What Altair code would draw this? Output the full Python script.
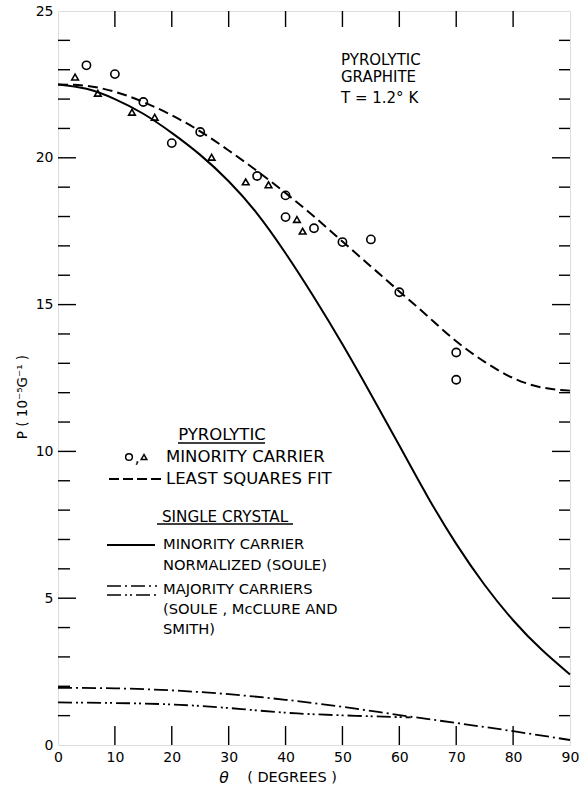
import altair as alt
import pandas as pd

# ---- measured points (pyrolytic graphite, minority carrier) ----
circ_theta = [5, 10, 15, 20, 25, 35, 40, 40, 45, 50, 55, 60, 70, 70]
circ_P = [23.15, 22.85, 21.9, 20.5, 20.88, 19.38, 18.72, 17.98, 17.6, 17.13, 17.22, 15.42, 13.37, 12.44]
tri_theta = [3, 7, 13, 17, 27, 33, 37, 42, 43]
tri_P = [22.75, 22.2, 21.55, 21.38, 20.02, 19.18, 19.08, 17.9, 17.5]

# ---- curves ----
curve_theta = [0, 5, 10, 15, 20, 25, 30, 35, 40, 45, 50, 55, 60, 65, 70, 75, 80, 85, 90]
fit_P = [22.5, 22.45, 22.25, 21.9, 21.45, 20.9, 20.25, 19.55, 18.8, 18.0, 17.15, 16.3,
         15.45, 14.6, 13.75, 13.05, 12.5, 12.18, 12.07]
single_P = [22.5, 22.35, 22.0, 21.5, 20.85, 20.1, 19.2, 18.1, 16.75, 15.25, 13.65, 11.95,
            10.2, 8.45, 6.85, 5.45, 4.25, 3.25, 2.4]
maj1_theta = [0, 10, 20, 30, 40, 50, 60, 70, 80, 90]
maj1_P = [1.95, 1.93, 1.86, 1.73, 1.54, 1.3, 1.02, 0.75, 0.47, 0.17]
maj2_theta = [0, 10, 20, 30, 40, 50, 60, 62]
maj2_P = [1.45, 1.43, 1.38, 1.26, 1.1, 1.01, 0.95, 0.95]

# ---- axis ticks ----
x_labels = [0, 10, 20, 30, 40, 50, 60, 70, 80, 90]
x_ticks = [10, 20, 30, 40, 50, 60, 70, 80]
y_labels = [0, 5, 10, 15, 20, 25]
y_major = [5, 10, 15, 20]
y_minor = [v for v in range(1, 25) if v % 5 != 0]

W, H = 512, 734
FONT = "DejaVu Sans"

xs = alt.Scale(domain=[0, 90], nice=False, zero=False)
ys = alt.Scale(domain=[0, 25], nice=False, zero=False)

x_axis = alt.Axis(values=x_labels, title=None, ticks=False, domain=False, grid=False,
                  labelFontSize=14, labelFont=FONT, labelColor="black",
                  labelPadding=5, labelFlush=False)
y_axis = alt.Axis(values=y_labels, title=None, ticks=False, domain=False, grid=False,
                  labelFontSize=14, labelFont=FONT, labelColor="black",
                  labelPadding=5, labelFlush=False)
X = alt.X("theta:Q", scale=xs, axis=x_axis)
Y = alt.Y("P:Q", scale=ys, axis=y_axis)


def curve(theta, p, dash, width=2.0):
    df = pd.DataFrame({"theta": theta, "P": p})
    kw = dict(color="black", strokeWidth=width, interpolate="natural")
    if dash:
        kw["strokeDash"] = dash
    return alt.Chart(df).mark_line(**kw).encode(x=X, y=Y)


fit_line = curve(curve_theta, fit_P, [10, 5])
single_line = curve(curve_theta, single_P, None)
maj1_line = curve(maj1_theta, maj1_P, [14, 4, 2, 4], 1.8)
maj2_line = curve(maj2_theta, maj2_P, [14, 4, 2, 3, 2, 4], 1.8)

circles = alt.Chart(pd.DataFrame({"theta": circ_theta, "P": circ_P})).mark_point(
    shape="circle", filled=False, color="black", size=68, strokeWidth=1.6, opacity=1
).encode(x=X, y=Y)
triangles = alt.Chart(pd.DataFrame({"theta": tri_theta, "P": tri_P})).mark_point(
    shape="triangle-up", filled=False, color="black", size=44, strokeWidth=1.6, opacity=1
).encode(x=X, y=Y)

# ---- inward ticks on all four sides ----
xt = pd.DataFrame({"theta": x_ticks})
ticks_bottom = alt.Chart(xt).mark_rule(color="black", strokeWidth=1.4).encode(
    x=X, y=alt.value(H), y2=alt.value(H - 19))
ticks_top = alt.Chart(xt).mark_rule(color="black", strokeWidth=1.4).encode(
    x=X, y=alt.value(0), y2=alt.value(16))
ymaj = pd.DataFrame({"P": y_major})
ymin = pd.DataFrame({"P": y_minor})
ticks_left_major = alt.Chart(ymaj).mark_rule(color="black", strokeWidth=1.4).encode(
    y=Y, x=alt.value(0), x2=alt.value(18))
ticks_left_minor = alt.Chart(ymin).mark_rule(color="black", strokeWidth=1.4).encode(
    y=Y, x=alt.value(0), x2=alt.value(12))
ticks_right_major = alt.Chart(ymaj).mark_rule(color="black", strokeWidth=1.4).encode(
    y=Y, x=alt.value(W), x2=alt.value(W - 18))
ticks_right_minor = alt.Chart(ymin).mark_rule(color="black", strokeWidth=1.4).encode(
    y=Y, x=alt.value(W), x2=alt.value(W - 11))


# ---- text helpers ----
def label(text, x, y, align="left", size=14.7, angle=0, style="normal"):
    kw = dict(text=text, align=align, baseline="middle", fontSize=size, font=FONT,
              color="black", fontStyle=style)
    if angle:
        kw["angle"] = angle
    return alt.Chart(pd.DataFrame({"d": [0]})).mark_text(**kw).encode(
        x=alt.value(x), y=alt.value(y))


def seg(x1, x2, y, dash=None, width=1.8):
    kw = dict(color="black", strokeWidth=width)
    if dash:
        kw["strokeDash"] = dash
    return alt.Chart(pd.DataFrame({"d": [0]})).mark_rule(**kw).encode(
        x=alt.value(x1), x2=alt.value(x2), y=alt.value(y))


def sym(shape, x, y, size):
    return alt.Chart(pd.DataFrame({"d": [0]})).mark_point(
        shape=shape, filled=False, color="black", size=size, strokeWidth=1.5, opacity=1
    ).encode(x=alt.value(x), y=alt.value(y))


PY = 16.5
notes = [
    label("PYROLYTIC", 283, 49, size=15),
    label("GRAPHITE", 283, 66, size=15),
    label("T = 1.2° K", 283, 87, size=15),
    # pyrolytic block
    label("PYROLYTIC", 164, 424, align="center", size=PY),
    seg(120, 207, 432, width=1.3),
    sym("circle", 71, 446, 45),
    label(",", 76.5, 447, size=PY),
    sym("triangle-up", 86, 446, 32),
    label("MINORITY CARRIER", 108, 446, size=PY),
    seg(51, 105, 468, dash=[10, 4]),
    label("LEAST SQUARES FIT", 108, 468, size=PY),
    # single crystal block
    label("SINGLE CRYSTAL", 167, 506, align="center", size=15.2),
    seg(99, 235, 513, width=1.3),
    seg(49, 97, 534),
    label("MINORITY CARRIER", 105, 534),
    label("NORMALIZED (SOULE)", 105, 555),
    seg(49, 99, 575, dash=[14, 4, 2, 4], width=1.6),
    seg(49, 99, 584, dash=[14, 4, 2, 3, 2, 4], width=1.6),
    label("MAJORITY CARRIERS", 105, 579),
    label("(SOULE , McCLURE AND", 105, 599),
    label("SMITH)", 105, 619),
    # axis titles
    label("θ", 166, 767, align="center", size=15.5, style="italic"),
    label("( DEGREES )", 234, 767, align="center", size=14.5),
    label("P ( 10⁻⁵G⁻¹ )", -35, 386, align="center", size=13.5, angle=270),
]

chart = alt.layer(
    circles, triangles, fit_line, single_line, maj1_line, maj2_line,
    ticks_bottom, ticks_top, ticks_left_major, ticks_left_minor,
    ticks_right_major, ticks_right_minor,
    *notes,
).properties(
    width=W, height=H,
    autosize=alt.AutoSizeParams(type="none"),
    padding={"left": 58, "top": 11, "right": 11, "bottom": 44},
).configure_view(
    stroke="black", strokeWidth=1.6
).configure(background="white")

chart.save("out.html", embed_options={"renderer": "svg", "actions": False})
